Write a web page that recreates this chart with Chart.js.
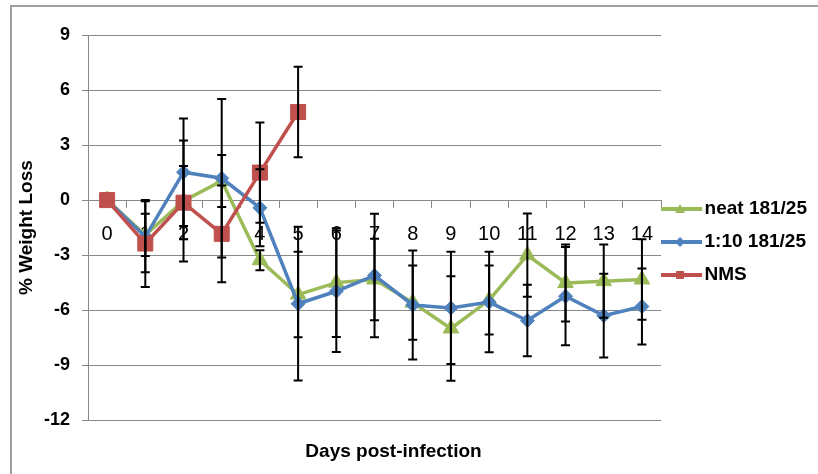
<!DOCTYPE html>
<html>
<head>
<meta charset="utf-8">
<script src="https://cdn.jsdelivr.net/npm/chart.js@4.4.1/dist/chart.umd.min.js"></script>
<style>
  html, body { margin: 0; padding: 0; background: #fff; overflow: hidden; }
  #wrap { position: relative; width: 818px; height: 474px; overflow: hidden; }
  #frame { position: absolute; left: 10px; top: 5px; width: 900px; height: 600px; border: 2px solid #a0a0a0; }
  #chart { position: absolute; left: 0; top: 0; }
</style>
</head>
<body>
<div id="wrap">
  <div id="frame"></div>
  <canvas id="chart" width="818" height="474"></canvas>
</div>
<script>
// days post-infection
const days = ['0', '1', '2', '3', '4', '5', '6', '7', '8', '9', '10', '11', '12', '13', '14'];

// % weight change, mean and error per day
const neat = [0, -1.9, -0.05, 1.04, -3.28, -5.15, -4.5, -4.33, -5.59, -7.0, -5.45, -3.0, -4.52, -4.42, -4.33];
const neatErr = [0, 1.15, 3.3, 1.42, 0.55, 2.33, 2.96, 2.22, 2.02, 2.85, 1.88, 2.27, 2.1, 2.0, 2.2];

const dilute = [0, -2.0, 1.52, 1.19, -0.42, -5.65, -4.97, -4.11, -5.72, -5.88, -5.56, -6.57, -5.24, -6.3, -5.8];
const diluteErr = [0, 1.93, 2.93, 4.32, 2.1, 4.19, 3.31, 3.37, 2.97, 3.06, 2.74, 1.95, 2.68, 2.28, 2.07];

const nms = [0, -2.37, -0.14, -1.84, 1.5, 4.8, null, null, null, null, null, null, null, null, null];
const nmsErr = [0, 2.37, 2.0, 2.64, 2.73, 2.47, null, null, null, null, null, null, null, null, null];

const yTicks = [-12, -9, -6, -3, 0, 3, 6, 9];

Chart.defaults.font.family = '"Liberation Sans", Arial, sans-serif';
Chart.defaults.color = '#000';

// black error bars with caps, drawn from the scales
const errorBars = {
  id: 'errorBars',
  afterDatasetsDraw(chart) {
    const { ctx, scales: { x, y } } = chart;
    ctx.save();
    ctx.strokeStyle = '#000';
    ctx.lineWidth = 2;
    chart.data.datasets.forEach((ds) => {
      ds.errors.forEach((e, i) => {
        const v = ds.data[i];
        if (v == null || !e) return;
        const px = x.getPixelForValue(i);
        const top = y.getPixelForValue(v + e);
        const bot = y.getPixelForValue(v - e);
        ctx.beginPath();
        ctx.moveTo(px, top); ctx.lineTo(px, bot);
        ctx.moveTo(px - 4.5, top); ctx.lineTo(px + 4.5, top);
        ctx.moveTo(px - 4.5, bot); ctx.lineTo(px + 4.5, bot);
        ctx.stroke();
      });
    });
    ctx.restore();
  }
};

// the axis title sits a little right of the plot centre in the original
const nudgeTitle = {
  id: 'nudgeTitle',
  afterLayout(chart) {
    const s = chart.scales.xTitle;
    s.left += 19;
    s.right += 19;
  }
};

// legend glyph: short line with the marker in the middle
function legendIcon(color, style) {
  const c = document.createElement('canvas');
  c.width = 54; c.height = 14;
  const g = c.getContext('2d');
  g.strokeStyle = color; g.fillStyle = color; g.lineWidth = 4;
  g.beginPath(); g.moveTo(0, 7); g.lineTo(44, 7); g.stroke();
  g.beginPath();
  if (style === 'triangle') {
    g.moveTo(22, 2); g.lineTo(27, 11); g.lineTo(17, 11);
  } else if (style === 'rectRot') {
    g.moveTo(22, 2); g.lineTo(27, 7); g.lineTo(22, 12); g.lineTo(17, 7);
  } else {
    g.rect(18, 3, 8, 8);
  }
  g.closePath(); g.fill();
  return c;
}

new Chart(document.getElementById('chart'), {
  type: 'line',
  data: {
    labels: days,
    datasets: [
      {
        label: 'neat 181/25', data: neat, errors: neatErr,
        borderColor: '#9BBB59', backgroundColor: '#9BBB59', borderWidth: 3.5,
        pointStyle: 'triangle', pointRadius: 9, pointBorderWidth: 1, order: 3
      },
      {
        label: '1:10 181/25', data: dilute, errors: diluteErr,
        borderColor: '#4F81BD', backgroundColor: '#4F81BD', borderWidth: 3.5,
        pointStyle: 'rectRot', pointRadius: 7, pointBorderWidth: 1, order: 2
      },
      {
        label: 'NMS', data: nms, errors: nmsErr,
        borderColor: '#C0504D', backgroundColor: '#C0504D', borderWidth: 3.5,
        pointStyle: 'rect', pointRadius: 10.6, pointBorderWidth: 1, order: 1
      }
    ]
  },
  options: {
    responsive: false,
    animation: false,
    devicePixelRatio: 1,
    layout: { padding: { left: 0, right: 1, top: 21, bottom: 11 } },
    plugins: {
      tooltip: { enabled: false },
      title: { display: true, text: ' ', fullSize: false, padding: 0, font: { size: 14, lineHeight: 1 } },
      legend: {
        position: 'right',
        labels: {
          usePointStyle: true,
          pointStyleWidth: 20,
          padding: 14,
          color: '#000',
          font: { size: 19, weight: 'bold' },
          sort: (a, b) => a.datasetIndex - b.datasetIndex,
          generateLabels(chart) {
            const items = Chart.defaults.plugins.legend.labels.generateLabels(chart);
            items.forEach((it) => {
              const ds = chart.data.datasets[it.datasetIndex];
              it.pointStyle = legendIcon(ds.borderColor, ds.pointStyle);
            });
            return items;
          }
        }
      }
    },
    scales: {
      x: {
        type: 'category', axis: 'x', labels: days, position: { y: 0 }, offset: true,
        grid: { drawOnChartArea: false, drawTicks: true, tickLength: 7, offset: true, color: '#888' },
        border: { color: '#888', width: 1 },
        ticks: { display: false }
      },
      xLabels: {
        type: 'category', axis: 'x', labels: days, position: { y: 0 }, offset: true, z: 1,
        grid: { display: false, drawTicks: false },
        border: { display: false },
        ticks: { color: '#000', font: { size: 20 }, padding: 22, autoSkip: false, maxRotation: 0 }
      },
      xTitle: {
        type: 'category', axis: 'x', labels: days, position: 'bottom',
        grid: { display: false, drawTicks: false },
        border: { display: false },
        ticks: { display: false },
        title: {
          display: true, text: 'Days post-infection', color: '#000',
          font: { size: 19, weight: 'bold' }, padding: { top: 20, bottom: 0 }
        }
      },
      y: {
        min: -12, max: 9,
        afterBuildTicks: (s) => { s.ticks = yTicks.map((v) => ({ value: v })); },
        afterFit: (s) => { s.width = 88; },
        grid: { color: '#888', tickLength: 6 },
        border: { color: '#888' },
        ticks: { color: '#000', font: { size: 18, weight: 'bold' }, padding: 12 },
        title: {
          display: true, text: '% Weight Loss', color: '#000',
          font: { size: 19, weight: 'bold' }, padding: { top: 15, bottom: 0 }
        }
      }
    }
  },
  plugins: [errorBars, nudgeTitle]
});
</script>
</body>
</html>
